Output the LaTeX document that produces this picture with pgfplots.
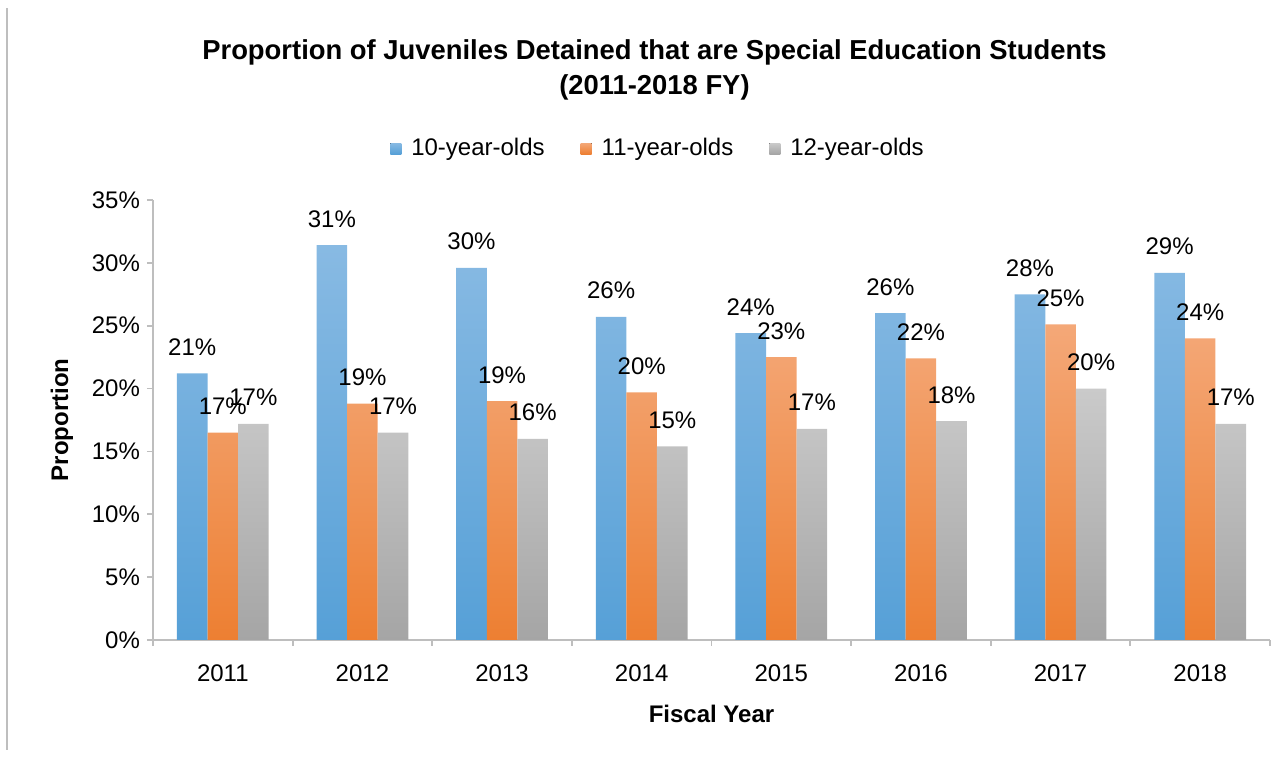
\documentclass[border=0pt]{standalone}
\usepackage{fontspec}
\setmainfont{Liberation Sans}
\usepackage{pgfplots}
\usepackage{pgfplotstable}
\pgfplotsset{compat=1.18}
\definecolor{blueT}{RGB}{136,186,227}
\definecolor{blueB}{RGB}{86,160,215}
\definecolor{orT}{RGB}{244,168,120}
\definecolor{orB}{RGB}{237,127,50}
\definecolor{grT}{RGB}{202,202,202}
\definecolor{grB}{RGB}{165,165,165}
\definecolor{axgray}{RGB}{190,190,190}

\pgfplotstableread{
x y lab
0 21.2 21
1 31.4 31
2 29.6 30
3 25.7 26
4 24.4 24
5 26.0 26
6 27.5 28
7 29.2 29
}\tblA
\pgfplotstableread{
x y lab
0 16.5 17
1 18.8 19
2 19.0 19
3 19.7 20
4 22.5 23
5 22.4 22
6 25.1 25
7 24.0 24
}\tblB
\pgfplotstableread{
x y lab
0 17.2 17
1 16.5 17
2 16.0 16
3 15.4 15
4 16.8 17
5 17.4 18
6 20.0 20
7 17.2 17
}\tblC

\begin{document}
\begin{tikzpicture}
\path[use as bounding box] (0,0) rectangle (637.5pt,379.5pt);
\draw[color=axgray, line width=1.2pt] (3.5pt,4.5pt) -- (3.5pt,375.5pt);
\node[font=\bfseries\fontsize{13.7}{17.5}\selectfont, align=center] at (327.25pt,344.5pt)
  {Proportion of Juveniles Detained that are Special Education Students\\(2011-2018 FY)};
\begin{axis}[
  at={(76.5pt,59.5pt)}, anchor=south west,
  scale only axis, width=558.5pt, height=220pt,
  ybar=0pt, bar width=15.3pt,
  xmin=-0.5, xmax=7.5, ymin=0, ymax=35,
  clip=false,
  axis x line*=bottom, axis y line*=left,
  axis line style={axgray, line width=0.9pt},
  xtick={0,1,2,3,4,5,6,7},
  xticklabels={2011,2012,2013,2014,2015,2016,2017,2018},
  major x tick style={draw=none},
  minor xtick={-0.5,0.5,...,7.5},
  minor x tick style={axgray, line width=0.9pt},
  ytick={0,5,10,15,20,25,30,35},
  yticklabels={0\%,5\%,10\%,15\%,20\%,25\%,30\%,35\%},
  major y tick style={axgray, line width=0.9pt},
  tick align=outside, major tick length=3pt, minor tick length=3pt,
  tick label style={font=\fontsize{12}{14}\selectfont, text=black},
  xticklabel style={yshift=-6pt},
  /pgf/number format/assume math mode=true,
  xlabel={Fiscal Year}, ylabel={Proportion},
  every axis x label/.style={at={(axis description cs:0.5,-0.168)}, anchor=center, font=\bfseries\fontsize{12}{14}\selectfont},
  every axis y label/.style={at={(axis description cs:-0.0815,0.5)}, rotate=90, anchor=center, font=\bfseries\fontsize{12}{14}\selectfont},
  point meta=explicit,
  nodes near coords={\pgfmathprintnumber{\pgfplotspointmeta}\%},
  every node near coord/.append style={font=\fontsize{12}{14}\selectfont, text=black, anchor=base, inner sep=0pt, yshift=9pt},
  legend style={at={(0.453,1.117)}, anchor=center, draw=none, fill=none,
    legend columns=3, font=\fontsize{12}{14}\selectfont,
    /tikz/every odd column/.append style={column sep=3pt},
    /tikz/every even column/.append style={column sep=16pt}},
  legend image code/.code={\fill[#1] (0pt,-2.75pt) rectangle (5.5pt,2.75pt);},
]
\addplot[draw=none, top color=blueT, bottom color=blueB] table[x=x,y=y,meta=lab] {\tblA};
\addplot[draw=none, top color=orT, bottom color=orB] table[x=x,y=y,meta=lab] {\tblB};
\addplot[draw=none, top color=grT, bottom color=grB] table[x=x,y=y,meta=lab] {\tblC};
\legend{10-year-olds,11-year-olds,12-year-olds}
\end{axis}
\end{tikzpicture}
\end{document}
